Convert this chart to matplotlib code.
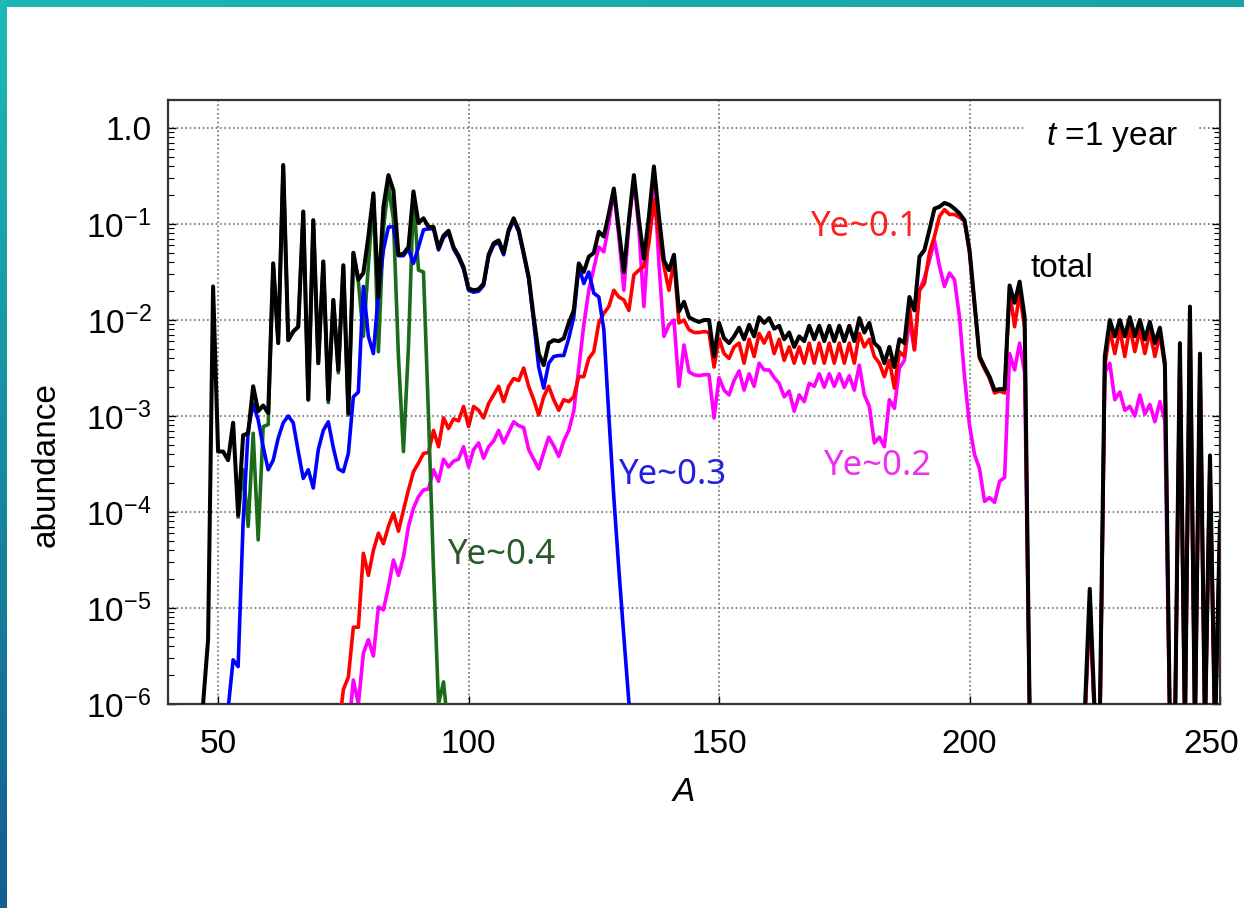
import numpy as np
import matplotlib
matplotlib.use('Agg')
import matplotlib.pyplot as plt
from matplotlib.ticker import LogLocator, NullFormatter
from matplotlib.transforms import ScaledTranslation

plt.rcParams['font.family'] = ['Liberation Sans', 'DejaVu Sans']
plt.rcParams['mathtext.fontset'] = 'custom'
plt.rcParams['mathtext.rm'] = 'Liberation Sans'
plt.rcParams['mathtext.it'] = 'Liberation Sans:italic'

# log10(abundance), one value per mass number A
total_start = 46
total_log = [
    -6.3, -6.0, -5.33, -1.65, -3.37, -3.37, -3.46, -3.07, -4.03, -3.2,
    -3.18, -2.69, -2.95, -2.89, -2.97, -1.41, -2.24, -0.385, -2.21, -2.12,
    -2.07, -0.87, -2.83, -0.96, -2.45, -1.39, -2.83, -1.79, -2.52, -1.43,
    -2.97, -1.30, -1.58, -1.51, -1.13, -0.68, -1.76, -0.82, -0.49, -0.65,
    -1.32, -1.31, -1.24, -0.66, -0.99, -0.94, -1.03, -1.03, -1.25, -1.12,
    -1.07, -1.24, -1.33, -1.45, -1.67, -1.69, -1.68, -1.62, -1.32, -1.20,
    -1.17, -1.30, -1.06, -0.94, -1.06, -1.30, -1.55, -1.97, -2.35, -2.47,
    -2.24, -2.21, -2.22, -2.19, -2.03, -1.90, -1.41, -1.50, -1.34, -1.30,
    -1.08, -1.13, -0.89, -0.63, -1.06, -1.50, -0.96, -0.49, -0.96, -1.36,
    -0.92, -0.40, -0.92, -1.38, -1.48, -1.32, -1.91, -1.81, -1.97, -2.00,
    -2.02, -2.00, -2.00, -2.38, -2.03, -2.19, -2.24, -2.17, -2.08, -2.20,
    -2.05, -2.17, -1.97, -2.03, -1.98, -2.09, -2.06, -2.20, -2.13, -2.28,
    -2.17, -2.22, -2.06, -2.20, -2.06, -2.22, -2.06, -2.22, -2.06, -2.22,
    -2.06, -2.22, -1.98, -2.13, -2.03, -2.24, -2.29, -2.45, -2.28, -2.49,
    -2.20, -2.24, -1.76, -1.90, -1.34, -1.27, -1.06, -0.84, -0.82, -0.78,
    -0.80, -0.84, -0.89, -0.96, -1.27, -1.82, -2.38, -2.49, -2.59, -2.73,
    -2.72, -2.72, -1.64, -1.82, -1.60, -1.97, -6.1, -6.3, -6.3, -6.3,
    -6.3, -6.3, -6.3, -6.3, -6.3, -6.3, -6.3, -6.1, -4.8, -6.1,
    -6.2, -2.38, -2.00, -2.17, -2.00, -2.17, -1.97, -2.17, -2.00, -2.20,
    -2.02, -2.24, -2.08, -2.45, -6.2, -6.3, -2.24, -6.3, -1.86, -6.3,
    -2.35, -6.3, -3.41, -6.3, -4.1,
]

ye01_start = 73
ye01_log = [
    -6.3, -6.3, -5.85, -5.72, -5.2, -5.2, -4.43, -4.66, -4.4, -4.22,
    -4.33, -4.15, -4.01, -4.2, -3.98, -3.77, -3.58, -3.49, -3.39, -3.38,
    -3.15, -3.32, -3.02, -3.13, -3.03, -3.05, -2.9, -3.11, -2.9, -2.94,
    -3.02, -2.87, -2.78, -2.69, -2.85, -2.69, -2.61, -2.63, -2.5, -2.69,
    -2.83, -2.99, -2.8, -2.69, -2.83, -2.94, -2.83, -2.85, -2.8, -2.59,
    -2.59, -2.40, -2.33, -2.03, -1.93, -1.86, -1.69, -1.76, -1.79, -1.9,
    -1.53, -1.48, -1.44, -1.2, -0.75, -1.13, -1.44, -1.69, -1.38, -2.03,
    -2.0, -2.1, -2.13, -2.13, -2.12, -2.13, -2.49, -2.19, -2.35, -2.4,
    -2.28, -2.24, -2.45, -2.2, -2.38, -2.14, -2.24, -2.13, -2.35, -2.2,
    -2.42, -2.28, -2.45, -2.28, -2.45, -2.24, -2.45, -2.24, -2.45, -2.24,
    -2.45, -2.24, -2.45, -2.24, -2.45, -2.14, -2.28, -2.2, -2.38, -2.45,
    -2.59, -2.42, -2.71, -2.33, -2.38, -1.86, -2.31, -1.69, -1.62, -1.30,
    -1.13, -0.92, -0.85, -0.9, -0.9, -0.93, -0.97, -1.3, -1.84, -2.40,
    -2.51, -2.61, -2.76, -2.74, -2.76, -1.69, -2.07, -1.72, -2.08, -6.1,
    -6.3, -6.3, -6.3, -6.3, -6.3, -6.3, -6.3, -6.3, -6.3, -6.3,
    -6.2, -4.9, -6.2, -6.3, -2.49, -2.1, -2.35, -2.1, -2.38, -2.07,
    -2.33, -2.1, -2.35, -2.12, -2.38, -2.15, -2.49, -6.3, -6.3, -2.3,
    -6.3, -1.92, -6.3, -2.4, -6.3, -3.46, -6.3, -4.15,
]

ye02_start = 75
ye02_log = [
    -6.3, -6.3, -5.75, -6.0, -5.47, -5.33, -5.5, -4.99, -5.02, -4.78,
    -4.5, -4.66, -4.47, -4.15, -3.96, -3.84, -3.77, -3.76, -3.56, -3.68,
    -3.45, -3.53, -3.47, -3.45, -3.32, -3.53, -3.35, -3.28, -3.44, -3.32,
    -3.26, -3.15, -3.28, -3.17, -3.06, -3.1, -3.12, -3.35, -3.45, -3.55,
    -3.38, -3.22, -3.31, -3.42, -3.26, -3.15, -2.95, -2.5, -2.05, -1.69,
    -1.46, -1.24, -1.29, -1.0, -0.65, -1.13, -1.69, -1.0, -0.52, -1.06,
    -1.86, -1.06, -0.51, -1.41, -2.17, -2.05, -2.0, -2.69, -2.26, -2.54,
    -2.57, -2.58, -2.57, -2.57, -3.02, -2.6, -2.73, -2.78, -2.63, -2.53,
    -2.73, -2.56, -2.69, -2.45, -2.52, -2.52, -2.6, -2.66, -2.8, -2.74,
    -2.95, -2.78, -2.85, -2.66, -2.69, -2.56, -2.7, -2.56, -2.69, -2.56,
    -2.7, -2.58, -2.73, -2.47, -2.78, -2.9, -3.28, -3.22, -3.32, -2.83,
    -2.92, -2.5, -2.42, -2.0, -2.31, -1.69, -1.56, -1.38, -1.17, -1.44,
    -1.65, -1.51, -1.58, -1.97, -2.59, -3.1, -3.4, -3.55, -3.89, -3.85,
    -3.9, -3.68, -3.64, -2.35, -2.52, -2.24, -2.55, -6.1, -6.3, -6.3,
    -6.3, -6.3, -6.3, -6.3, -6.3, -6.3, -6.3, -6.3, -6.2, -5.0,
    -6.2, -6.3, -2.55, -2.45, -2.83, -2.75, -2.94, -2.9, -3.0, -2.78,
    -2.98, -2.88, -3.06, -2.85, -3.05, -6.3, -6.3, -2.45, -6.3, -2.1,
    -6.3, -2.55, -6.3, -3.55, -6.3, -4.2,
]

ye03_start = 51
ye03_log = [
    -6.3, -6.05, -5.54, -5.61, -4.1, -3.15, -2.87, -3.04, -3.32, -3.56,
    -3.46, -3.23, -3.07, -3.00, -3.07, -3.37, -3.65, -3.56, -3.75, -3.35,
    -3.15, -3.06, -3.33, -3.55, -3.58, -3.39, -2.80, -2.75, -1.65, -2.17,
    -2.35, -1.72, -1.27, -1.03, -1.03, -1.33, -1.33, -1.26, -1.41, -1.24,
    -1.06, -1.05, -1.05, -1.27, -1.14, -1.09, -1.26, -1.35, -1.47, -1.69,
    -1.71, -1.70, -1.64, -1.34, -1.22, -1.19, -1.32, -1.08, -0.96, -1.08,
    -1.32, -1.57, -2.02, -2.49, -2.71, -2.45, -2.38, -2.37, -2.37, -2.19,
    -1.97, -1.44, -1.62, -1.50, -1.72, -1.76, -2.10, -3.00, -3.85, -4.60,
    -5.30, -5.98, -6.3,
]

ye04_start = 54
ye04_log = [
    -4.05, -3.56, -4.15, -3.18, -4.29, -3.11, -3.09,
    -1.41, -2.24, -0.385, -2.21, -2.12, -2.07, -0.87, -2.83, -0.96, -2.45,
    -1.39, -2.86, -1.79, -2.55, -1.43, -2.99, -1.30, -1.60, -2.17, -1.43,
    -0.70, -2.33, -1.05, -0.60, -0.95, -2.38, -3.37, -2.28, -0.69, -1.48,
    -1.50, -3.00, -4.60, -6.00, -5.77, -6.3,
]


def series(start, logs):
    mass = np.arange(start, start + len(logs))
    return mass, 10.0 ** np.array(logs)


W, H = 1244, 908
fig = plt.figure(figsize=(W / 100, H / 100), dpi=100)

# slide frame: teal strip on top and a gradient strip on the left
top = fig.add_axes([0, 1 - 7 / H, 1, 7 / H])
top.imshow(np.linspace(0, 1, 50)[None, :], aspect='auto',
           cmap=matplotlib.colors.LinearSegmentedColormap.from_list('t', ['#1bb6b4', '#17a3a8']))
top.axis('off')
left = fig.add_axes([0, 0, 6 / W, 1])
left.imshow(np.linspace(0, 1, 50)[:, None], aspect='auto',
            cmap=matplotlib.colors.LinearSegmentedColormap.from_list('l', ['#1cbab6', '#168ca0', '#145f8e']))
left.axis('off')

ax = fig.add_axes([168 / W, 1 - 704 / H, (1220 - 168) / W, (704 - 100) / H])

curves = [
    (ye02_start, ye02_log, '#ff00ff', 2.6, 2),
    (ye01_start, ye01_log, '#ff0000', 2.6, 3),
    (ye04_start, ye04_log, '#1a6b1a', 2.6, 4),
    (ye03_start, ye03_log, '#0000ff', 2.6, 5),
    (total_start, total_log, '#000000', 2.9, 6),
]
for start, logs, col, lw, z in curves:
    m, v = series(start, logs)
    ax.plot(m, v, color=col, lw=lw, zorder=z)

ax.set_yscale('log')
ax.set_xlim(40, 250)
ax.set_ylim(1e-6, 1.96)

ax.set_xticks([50, 100, 150, 200, 250])
ax.set_yticks([1e-6, 1e-5, 1e-4, 1e-3, 1e-2, 1e-1, 1.0])
ax.set_yticklabels(['$10^{-6}$', '$10^{-5}$', '$10^{-4}$', '$10^{-3}$',
                    '$10^{-2}$', '$10^{-1}$', '1.0'])
ax.yaxis.set_minor_locator(LogLocator(base=10, subs=np.arange(2, 10), numticks=20))
ax.yaxis.set_minor_formatter(NullFormatter())
ax.tick_params(axis='both', which='major', direction='in', labelsize=24,
               length=6, width=1, right=True, top=False, pad=12)
ax.tick_params(axis='y', which='minor', direction='in', length=4, width=0.8, right=True)
ax.tick_params(axis='x', pad=18)

# keep the "250" label inside the picture, as in the original
last = ax.get_xticklabels()[-1]
last.set_transform(last.get_transform() + ScaledTranslation(-6 / 72, 0, fig.dpi_scale_trans))

ax.grid(True, which='major', color='#707070', linestyle=(0, (1, 1.6)), linewidth=1.2)
ax.set_axisbelow(True)
for s in ax.spines.values():
    s.set_linewidth(1.6)
    s.set_color('#333333')

ax.set_ylabel('abundance', fontsize=24)
ax.yaxis.set_label_coords(-0.101, 0.396)
ax.set_xlabel('$A$', fontsize=24)
ax.xaxis.set_label_coords(0.4895, -0.121)

lab = dict(fontsize=25, family=['Noto Sans', 'DejaVu Sans'], va='center', ha='left', zorder=8)
ax.text(168.2, 10 ** -1.03, 'Ye~0.1', color='#ff2020', **lab)
ax.text(170.8, 10 ** -3.52, 'Ye~0.2', color='#ee30ee', **lab)
ax.text(129.8, 10 ** -3.61, 'Ye~0.3', color='#2222dd', **lab)
ax.text(95.6, 10 ** -4.45, 'Ye~0.4', color='#2a5a2a', **lab)
ax.text(212.2, 10 ** -1.46, 'total', color='black', fontsize=24, va='center', ha='left', zorder=8)
# white box hides the grid behind the label but stays under the frame
ax.text(215.2, 10 ** -0.09, '$t$ =1 year', color='black', fontsize=24, va='center', ha='left',
        zorder=1.5, bbox=dict(facecolor='white', edgecolor='none', pad=14))

fig.savefig('out.png', dpi=100)
